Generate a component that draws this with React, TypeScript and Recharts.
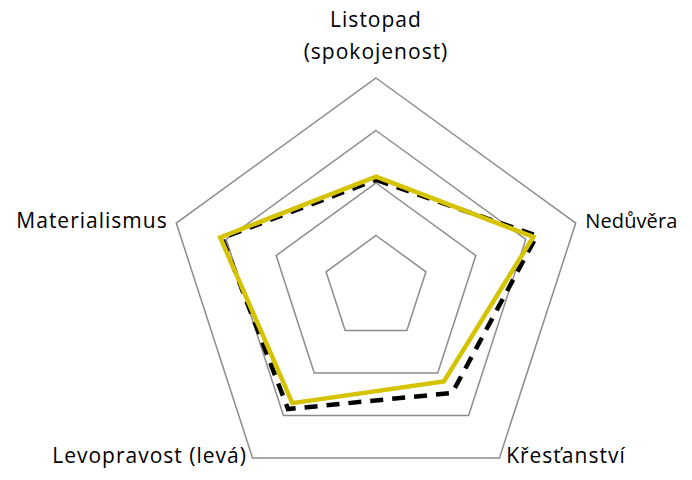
import React from "react";
import { RadarChart, Radar, PolarGrid, PolarAngleAxis, PolarRadiusAxis } from "recharts";

const categories = ["Listopad (spokojenost)", "Nedůvěra", "Křesťanství", "Levopravost (levá)", "Materialismus"];
const seriesDashed = [2.06, 3.22, 2.47, 2.85, 3.08];
const seriesYellow = [2.12, 3.15, 2.2, 2.71, 3.12];
const radiusTicks = [0, 1, 2, 3, 4];

const data = categories.map((name, i) => ({
  name,
  dashed: seriesDashed[i],
  yellow: seriesYellow[i],
}));

const FONT = "'Open Sans', Lato, sans-serif";

function AngleTick(props: any) {
  const { x, y, payload, textAnchor } = props;
  const label: string = payload.value;
  if (label.startsWith("Listopad")) {
    return (
      <text x={x} y={y} textAnchor="middle" fontFamily={FONT} fontSize={21} letterSpacing={1} fill="#000">
        <tspan x={x} dy={-43}>Listopad</tspan>
        <tspan x={x} dy={32}>(spokojenost)</tspan>
      </text>
    );
  }
  const bottom = y > 300;
  const dx = textAnchor === "start" ? 2 : -1;
  // the right-hand label has to stay inside the 692px frame
  const tight = label === "Nedůvěra";
  return (
    <text
      x={x + dx}
      y={bottom ? y - 1 : y + 7}
      textAnchor={textAnchor}
      fontFamily={FONT}
      fontSize={tight ? 20 : 21}
      letterSpacing={tight ? 0.1 : 1}
      fill="#000"
    >
      {label}
    </text>
  );
}

export default function App() {
  return (
    <div style={{ width: 692, height: 480, margin: -8 }}>
      <RadarChart
        width={692}
        height={480}
        data={data}
        cx={376}
        cy={288}
        outerRadius={210}
        startAngle={90}
        endAngle={-270}
      >
        <PolarGrid gridType="polygon" radialLines={false} stroke="#8c8c8c" strokeWidth={1.5} />
        <PolarAngleAxis dataKey="name" tick={<AngleTick />} tickLine={false} axisLine={false} />
        <PolarRadiusAxis
          domain={[0, 4]}
          ticks={radiusTicks as any}
          tickCount={5}
          tick={false}
          axisLine={false}
        />
        <Radar
          dataKey="dashed"
          stroke="#000"
          strokeWidth={4.5}
          strokeDasharray="13 9"
          fill="none"
          fillOpacity={0}
          isAnimationActive={false}
        />
        <Radar
          dataKey="yellow"
          stroke="#d5c300"
          strokeWidth={4.5}
          fill="none"
          fillOpacity={0}
          isAnimationActive={false}
        />
      </RadarChart>
    </div>
  );
}
